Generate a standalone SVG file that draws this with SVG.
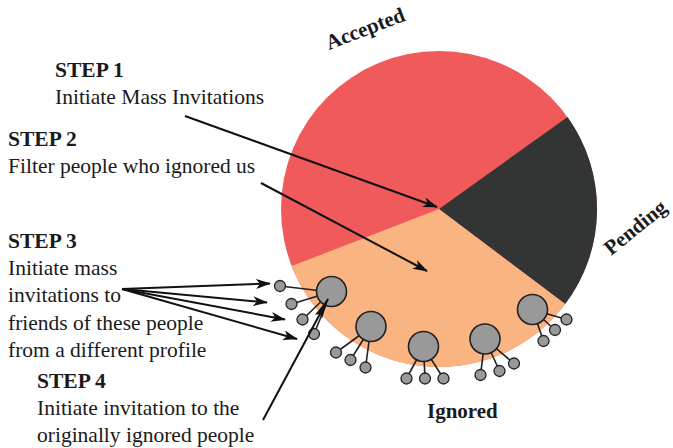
<svg xmlns="http://www.w3.org/2000/svg" width="673" height="448" viewBox="0 0 673 448">
  <style>
    .lbl { font-family: "Liberation Serif", "DejaVu Serif", serif; font-size: 21.5px; fill: #1a1a1a; }
    .hd { font-weight: bold; }
    .pie { font-family: "Liberation Serif", "DejaVu Serif", serif; font-size: 21px; font-weight: bold; fill: #1a1a1a; }
    .big { fill: #999999; stroke: #222; stroke-width: 1.6; }
    .small { fill: #999999; stroke: #222; stroke-width: 1.3; }
    .link { stroke: #222; stroke-width: 1.6; }
    .arrow { stroke: #111; stroke-width: 2; fill: none; marker-end: url(#head); }
  </style>
  <defs>
    <marker id="head" markerWidth="16" markerHeight="10" refX="14" refY="5" orient="auto" markerUnits="userSpaceOnUse">
      <path d="M0,0 L15,5 L0,10 L4,5 Z" fill="#111"/>
    </marker>
    <marker id="headLong" markerWidth="22" markerHeight="10" refX="20" refY="5" orient="auto" markerUnits="userSpaceOnUse">
      <path d="M0,1 L21,5 L0,9 L3,5 Z" fill="#111"/>
    </marker>
  </defs>

  <!-- pie chart -->
  <g id="pie">
    <circle cx="439" cy="209" r="158" fill="#f05a5a"/>
    <path d="M439,209 L567.5,117 A158,158 0 0,1 565.2,304.1 Z" fill="#333535"/>
    <path d="M439,209 L565.2,304.1 A158,158 0 0,1 291.7,266.1 Z" fill="#fab482"/>
  </g>

  <!-- slice labels -->
  <g id="label-accepted">
    <text class="pie" transform="translate(329,50) rotate(-21)">Accepted</text>
  </g>
  <g id="label-pending">
    <text class="pie" transform="translate(611,256) rotate(-39)">Pending</text>
  </g>
  <g id="label-ignored">
    <text class="pie" x="427" y="418">Ignored</text>
  </g>

  <!-- ignored people and their friends -->
  <g id="cluster-1">
    <line class="link" x1="280" y1="286" x2="331" y2="292"/>
    <line class="link" x1="291.5" y1="304" x2="331" y2="292"/>
    <line class="link" x1="302.5" y1="319.5" x2="331" y2="292"/>
    <line class="link" x1="314" y1="334" x2="331" y2="292"/>
    <circle class="small" cx="280" cy="286" r="5.5"/>
    <circle class="small" cx="291.5" cy="304" r="5.5"/>
    <circle class="small" cx="302.5" cy="319.5" r="5.5"/>
    <circle class="small" cx="314" cy="334" r="5.5"/>
    <circle class="big" cx="331.5" cy="291.5" r="15"/>
  </g>
  <g id="cluster-2">
    <line class="link" x1="336" y1="352.5" x2="371" y2="327"/>
    <line class="link" x1="350.5" y1="360" x2="371" y2="327"/>
    <line class="link" x1="365.5" y1="367.5" x2="371" y2="327"/>
    <circle class="small" cx="336" cy="352.5" r="5.5"/>
    <circle class="small" cx="350.5" cy="360" r="5.5"/>
    <circle class="small" cx="365.5" cy="367.5" r="5.5"/>
    <circle class="big" cx="371" cy="326.5" r="15"/>
  </g>
  <g id="cluster-3">
    <line class="link" x1="406.5" y1="378.5" x2="423.5" y2="347"/>
    <line class="link" x1="425" y1="378.5" x2="423.5" y2="347"/>
    <line class="link" x1="443.5" y1="378.5" x2="423.5" y2="347"/>
    <circle class="small" cx="406.5" cy="378.5" r="5.5"/>
    <circle class="small" cx="425" cy="378.5" r="5.5"/>
    <circle class="small" cx="443.5" cy="378.5" r="5.5"/>
    <circle class="big" cx="423.5" cy="346.5" r="15"/>
  </g>
  <g id="cluster-4">
    <line class="link" x1="480.5" y1="375" x2="485" y2="339"/>
    <line class="link" x1="499.5" y1="371" x2="485" y2="339"/>
    <line class="link" x1="514" y1="363.5" x2="485" y2="339"/>
    <circle class="small" cx="480.5" cy="375" r="5.5"/>
    <circle class="small" cx="499.5" cy="371" r="5.5"/>
    <circle class="small" cx="514" cy="363.5" r="5.5"/>
    <circle class="big" cx="485" cy="339" r="15"/>
  </g>
  <g id="cluster-5">
    <line class="link" x1="566.5" y1="319.5" x2="532.5" y2="309.5"/>
    <line class="link" x1="555" y1="330" x2="532.5" y2="309.5"/>
    <line class="link" x1="543.5" y1="341" x2="532.5" y2="309.5"/>
    <circle class="small" cx="566.5" cy="319.5" r="5.5"/>
    <circle class="small" cx="555" cy="330" r="5.5"/>
    <circle class="small" cx="543.5" cy="341" r="5.5"/>
    <circle class="big" cx="532.5" cy="309.5" r="15"/>
  </g>

  <!-- step captions -->
  <g id="step-1">
    <text class="lbl hd" x="55" y="77">STEP 1</text>
    <text class="lbl" x="55" y="104">Initiate Mass Invitations</text>
  </g>
  <g id="step-2">
    <text class="lbl hd" x="8" y="146">STEP 2</text>
    <text class="lbl" x="8" y="173">Filter people who ignored us</text>
  </g>
  <g id="step-3">
    <text class="lbl hd" x="8" y="248">STEP 3</text>
    <text class="lbl" x="8" y="275">Initiate mass</text>
    <text class="lbl" x="8" y="302">invitations to</text>
    <text class="lbl" x="8" y="330">friends of these people</text>
    <text class="lbl" x="8" y="357">from a different profile</text>
  </g>
  <g id="step-4">
    <text class="lbl hd" x="37" y="388">STEP 4</text>
    <text class="lbl" x="37" y="415">Initiate invitation to the</text>
    <text class="lbl" x="37" y="442">originally ignored people</text>
  </g>

  <!-- connectors -->
  <g id="connectors">
    <line class="arrow" x1="185" y1="116" x2="437" y2="207"/>
    <line class="arrow" x1="261" y1="183" x2="427" y2="271"/>
    <line class="arrow" x1="122" y1="289" x2="270" y2="283.5"/>
    <line class="arrow" x1="122" y1="289" x2="267" y2="302.5"/>
    <line class="arrow" x1="122" y1="289" x2="285" y2="319.5"/>
    <line class="arrow" x1="122" y1="289" x2="297" y2="339"/>
    <line x1="263" y1="420" x2="328" y2="299" stroke="#111" stroke-width="2" marker-end="url(#headLong)"/>
  </g>
</svg>
